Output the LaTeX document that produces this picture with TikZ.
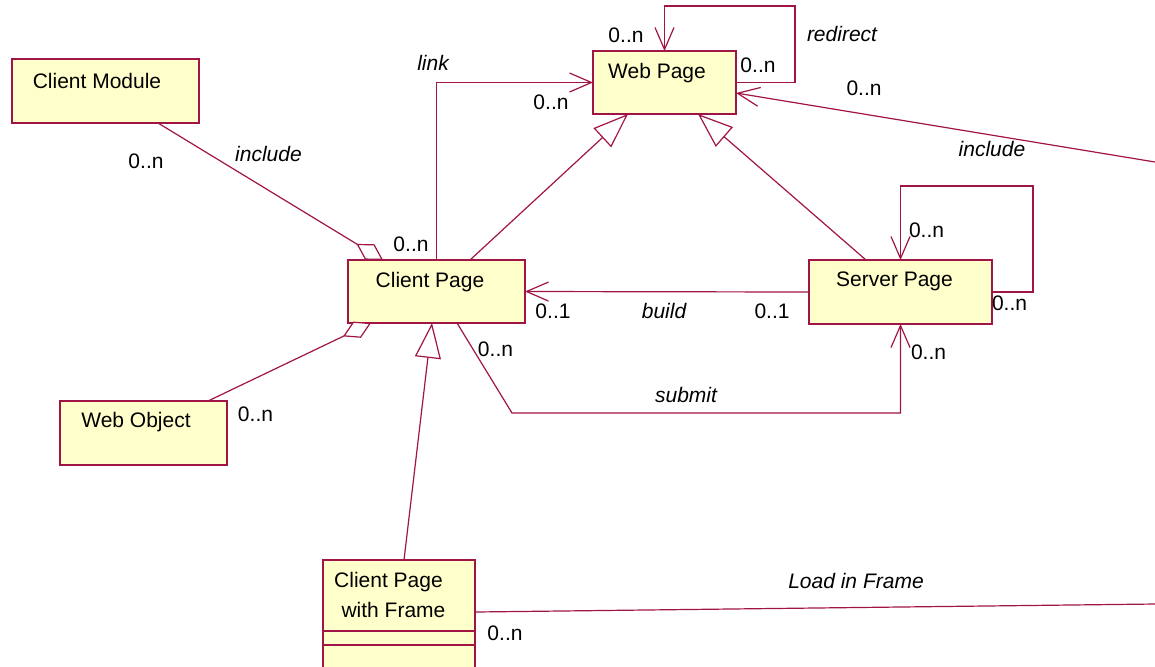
\documentclass[tikz,border=0pt]{standalone}
\usepackage{fontspec}
\setmainfont{Liberation Sans}
\usetikzlibrary{arrows.meta,calc}
\definecolor{umlline}{RGB}{160,20,70}
\definecolor{umlfill}{RGB}{255,255,204}
\begin{document}
\begin{tikzpicture}[x=0.5pt,y=-0.5pt,
  box/.style={draw=umlline, fill=umlfill, line width=0.6pt, inner sep=0pt, outer sep=0pt},
  txt/.style={inner sep=0pt, text height=7.5pt, text depth=0pt, font=\fontsize{10.5}{12}\selectfont},
  lbl/.style={txt, font=\fontsize{10.5}{12}\selectfont\itshape},
  conn/.style={draw=umlline, line width=0.6pt},
  assoc/.style={conn, -{Straight Barb[length=11pt,width=9.5pt]}},
  gen/.style={conn, -{Triangle[length=17.5pt,width=13pt,fill=white]}},
  aggr/.style={conn, -{Diamond[length=15.5pt,width=9pt,fill=white]}},
]
\clip (0,0) rectangle (1155,666);
\fill[white] (0,0) rectangle (1155,666);

% boxes
\node[box, minimum width=71.5pt, minimum height=31.5pt] (wp) at (664.5,82.5) {};
\node[txt] (wpt) at (657,71) {Web Page};
\node[box, minimum width=93.5pt, minimum height=32pt] (cm) at (105.5,91) {};
\node[txt] (cmt) at (97,81) {Client Module};
\node[box, minimum width=88.5pt, minimum height=31.5pt] (cp) at (436.5,291.5) {};
\node[txt] (cpt) at (430,280) {Client Page};
\node[box, minimum width=91.5pt, minimum height=32pt] (sp) at (900.5,292) {};
\node[txt] (spt) at (894.5,279) {Server Page};
\node[box, minimum width=83.5pt, minimum height=32pt] (wo) at (143.5,433) {};
\node[txt] (wot) at (136,420) {Web Object};
\node[box, minimum width=76pt, minimum height=70pt] (cf) at (399,630) {};
\node[txt] (cft1) at (388.5,580) {Client Page};
\node[txt] (cft2) at (393.5,610) {with Frame};
\draw[conn] ($(cf.north west)+(0,71)$) -- ($(cf.north east)+(0,71)$);
\draw[conn] ($(cf.north west)+(0,85)$) -- ($(cf.north east)+(0,85)$);

% free ends
\coordinate (rin) at (1155,162);
\coordinate (lif) at (1155,604);

% connectors
\draw[assoc] (cp.north) |- (wp.west);
\draw[assoc] (wp.east) -- ++(59,0) |- ($(wp.north)+(0,-45)$) -- (wp.north);
\draw[assoc] (rin) -- ($(wp.south east)+(0,-21)$);
\draw[aggr] ($(cm.south east)+(-41,0)$) -- ($(cp.north west)+(35,0)$);
\draw[aggr] ($(wo.north east)+(-19,0)$) -- ($(cp.south west)+(23,0)$);
\draw[gen] ($(cp.north west)+(122,0)$) -- ($(wp.south west)+(35,0)$);
\draw[gen] ($(sp.north west)+(57,0)$) -- ($(wp.south west)+(105,0)$);
\draw[gen] ($(cf.north west)+(81,0)$) -- ($(cp.south west)+(84,0)$);
\draw[assoc] (sp.west) -- (cp.east);
\draw[assoc] ($(cp.south west)+(109,0)$) -- ++(55,90) -| (sp.south);
\draw[assoc] (sp.east) -- ++(41,0) |- ($(sp.north)+(0,-74)$) -- (sp.north);
\draw[conn] ($(cf.north east)+(0,52)$) -- (lif);

% labels
\node[txt] (l1) at (626,35) {0..n};
\node[txt] (l2) at (758,65) {0..n};
\node[lbl] (l3) at (842,34) {redirect};
\node[txt] (l4) at (864,88) {0..n};
\node[lbl] (l5) at (992,149) {include};
\node[lbl] (l6) at (433,63) {link};
\node[txt] (l7) at (551,102) {0..n};
\node[txt] (l8) at (411,244) {0..n};
\node[txt] (l9) at (146,161) {0..n};
\node[lbl] (l10) at (268.5,154) {include};
\node[txt] (l11) at (553,311) {0..1};
\node[lbl] (l12) at (664,311) {build};
\node[txt] (l13) at (772,311) {0..1};
\node[txt] (l14) at (495.5,349) {0..n};
\node[txt] (l15) at (255.5,414) {0..n};
\node[lbl] (l16) at (686,395) {submit};
\node[txt] (l17) at (926.5,230) {0..n};
\node[txt] (l18) at (1009.5,303) {0..n};
\node[txt] (l19) at (928.5,352) {0..n};
\node[lbl] (l20) at (856,581) {Load in Frame};
\node[txt] (l21) at (505,633) {0..n};
\end{tikzpicture}
\end{document}
